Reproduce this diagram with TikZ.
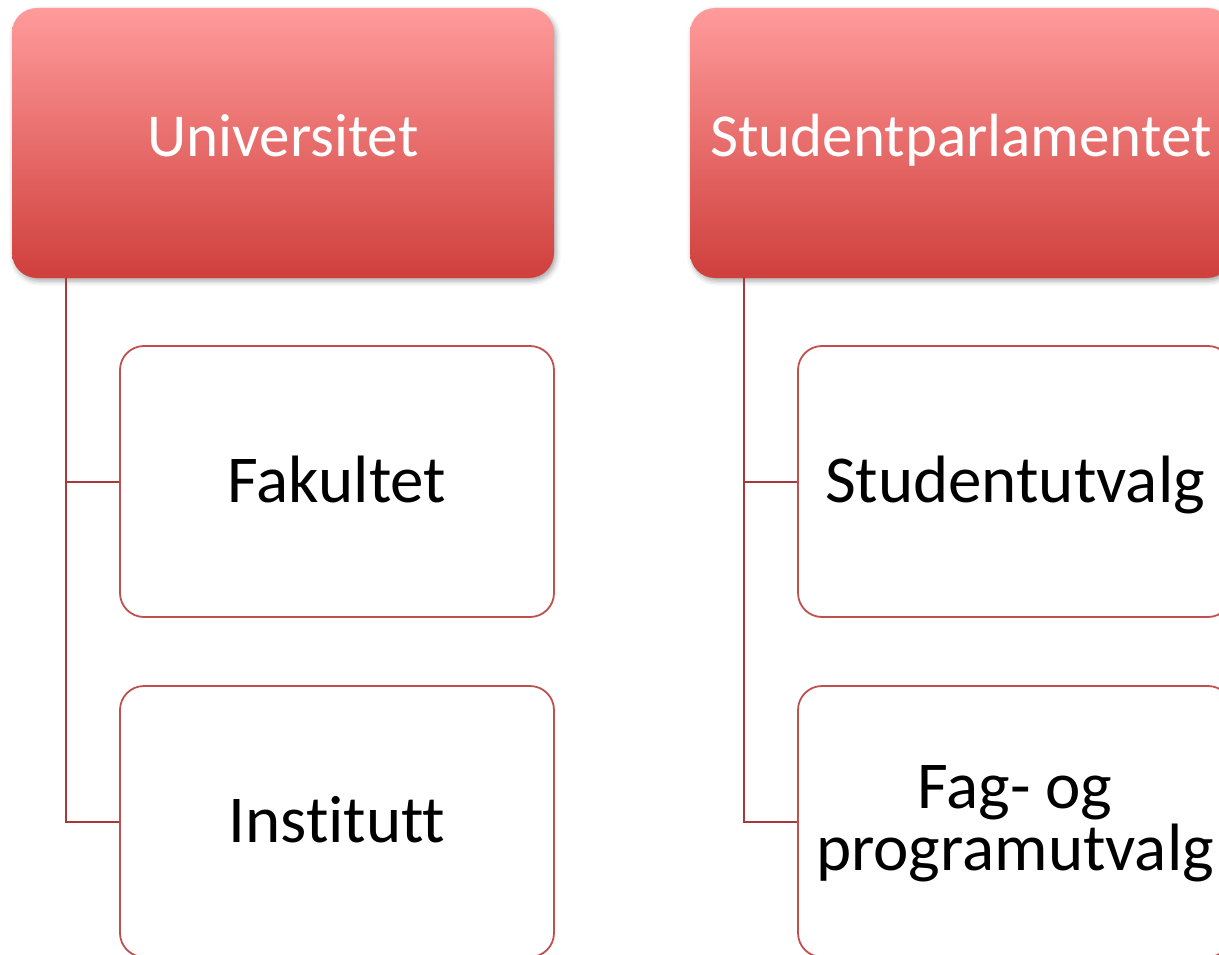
\documentclass[tikz,border=0pt]{standalone}
\usepackage{fontspec}
\setmainfont{Carlito}[RawFeature={-liga;-clig}]
\usetikzlibrary{shadows.blur}
\definecolor{hdtop}{RGB}{255,155,155}
\definecolor{hdbot}{RGB}{207,63,60}
\definecolor{boxline}{RGB}{192,80,77}
\definecolor{connc}{RGB}{165,57,59}
\begin{document}
\begin{tikzpicture}[x=1pt,y=-1pt]
\tikzset{
 header/.style={rectangle, rounded corners=25pt, minimum width=542pt, minimum height=270pt, inner sep=0pt,
   top color=hdtop, bottom color=hdbot, draw=none,
   blur shadow={shadow xshift=2pt, shadow yshift=-3pt, shadow blur radius=5pt, shadow opacity=35}},
 child/.style={rectangle, rounded corners=24pt, minimum width=434pt, minimum height=271pt, inner sep=0pt,
   draw=boxline, line width=1.8pt, fill=white},
 htext/.style={anchor=base, text=white, inner sep=0pt, font=\fontsize{61}{73}\selectfont},
 ctext/.style={anchor=base, text=black, inner sep=0pt, font=\fontsize{67}{80}\selectfont},
 conn/.style={draw=connc, line width=2pt}
}
\useasboundingbox (0,0) rectangle (1219,955);
% left column
\node[header] (u) at (283,143) {};
\node[child] (f) at (337,481.5) {};
\node[child] (i) at (337,821.5) {};
% right column
\node[header] (s) at (961,143) {};
\node[child] (su) at (1015,481.5) {};
\node[child] (fp) at (1015,821.5) {};
% texts
\node[htext] (ut) at ([yshift=-14pt]u.center) {Universitet};
\node[htext] (st) at ([yshift=-14pt]s.center) {Studentparlamentet};
\node[ctext] (ft) at ([yshift=-20.5pt]f.center) {Fakultet};
\node[ctext] (it) at ([yshift=-20.5pt]i.center) {Institutt};
\node[ctext] (sut) at ([yshift=-20.5pt]su.center) {Studentutvalg};
\node[ctext] (fpt1) at ([yshift=13.5pt]fp.center) {Fag- og};
\node[ctext] (fpt2) at ([yshift=-48.5pt]fp.center) {programutvalg};
% connectors
\coordinate (uc) at ([xshift=54pt]u.south west);
\coordinate (sc) at ([xshift=54pt]s.south west);
\draw[conn] (uc) |- (f.west);
\draw[conn] (uc) |- (i.west);
\draw[conn] (sc) |- (su.west);
\draw[conn] (sc) |- (fp.west);
\end{tikzpicture}
\end{document}
